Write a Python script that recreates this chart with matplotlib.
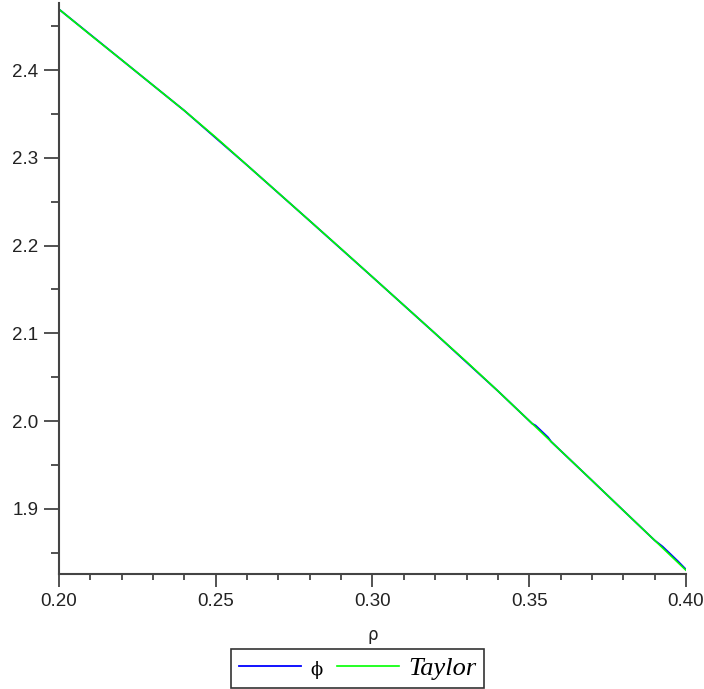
import matplotlib
matplotlib.use("Agg")
import matplotlib.pyplot as plt
from matplotlib.ticker import MultipleLocator

# Taylor approximation sampled along rho
rho = [0.20, 0.21, 0.22, 0.23, 0.24, 0.25, 0.26, 0.27, 0.28, 0.29, 0.30,
       0.31, 0.32, 0.33, 0.34, 0.35, 0.36, 0.37, 0.38, 0.39, 0.40]
taylor = [2.4695, 2.4403, 2.4117, 2.3828, 2.3539, 2.3235, 2.2917, 2.2600,
          2.2282, 2.1964, 2.1642, 2.1320, 2.0998, 2.0676, 2.0343, 2.0003,
          1.9663, 1.9323, 1.8981, 1.8640, 1.8299]

# exact phi, almost indistinguishable from the expansion
phi_rho = [0.20, 0.22, 0.24, 0.26, 0.28, 0.30, 0.32, 0.34, 0.35, 0.3510,
           0.3520, 0.3540, 0.3560, 0.3570, 0.36, 0.37, 0.38, 0.39, 0.3925,
           0.3950, 0.3975, 0.40]
phi_val = [2.4695, 2.4117, 2.3539, 2.2917, 2.2282, 2.1642, 2.0998, 2.0343,
           2.0003, 1.9969, 1.9950, 1.9882, 1.9814, 1.9765, 1.9663, 1.9323,
           1.8981, 1.8640, 1.8570, 1.8485, 1.8399, 1.8308]

x_ticks = [0.20, 0.25, 0.30, 0.35, 0.40]
y_ticks = [1.9, 2.0, 2.1, 2.2, 2.3, 2.4]

fig = plt.figure(figsize=(7.04, 6.89), dpi=100)
ax = fig.add_axes([0.0838, 0.1670, 0.8906, 0.8286])

ax.plot(phi_rho, phi_val, color="#0000ff", lw=1.3, label="ϕ")
ax.plot(rho, taylor, color="#00ff00", lw=1.2, label="Taylor")

ax.set_xlim(0.20, 0.40)
ax.set_ylim(1.8257, 2.4766)

ax.set_xticks(x_ticks)
ax.set_xticklabels([f"{v:.2f}" for v in x_ticks])
ax.set_yticks(y_ticks)
ax.set_yticklabels([f"{v:.1f}" for v in y_ticks])
ax.xaxis.set_minor_locator(MultipleLocator(0.01))
ax.yaxis.set_minor_locator(MultipleLocator(0.05))

axis_col = "#444444"
for side in ("top", "right"):
    ax.spines[side].set_visible(False)
for side in ("left", "bottom"):
    ax.spines[side].set_color(axis_col)
    ax.spines[side].set_linewidth(1.5)

ax.tick_params(axis="both", which="major", direction="out", color=axis_col,
               width=1.3, labelsize=13.5, labelcolor="#222222")
ax.tick_params(axis="y", which="major", length=11, pad=4)
ax.tick_params(axis="y", which="minor", length=6, width=1.3, color=axis_col)
ax.tick_params(axis="x", which="major", length=9, pad=5)
ax.tick_params(axis="x", which="minor", length=4, width=1.3, color=axis_col)
for lbl in ax.get_xticklabels() + ax.get_yticklabels():
    lbl.set_family("Liberation Sans")

ax.set_xlabel("ρ", fontsize=12, labelpad=11, color="#222222")

leg = fig.legend(loc="lower center", bbox_to_anchor=(0.5078, 0.002), ncol=2,
                 frameon=True, fancybox=False, edgecolor="black",
                 handlelength=2.35, columnspacing=0.55, handletextpad=0.35,
                 borderpad=0.28, borderaxespad=0.0, fontsize=19)
leg.get_frame().set_linewidth(1.2)
texts = leg.get_texts()
texts[0].set_family("DejaVu Serif")
texts[0].set_fontsize(13)
texts[1].set_family("Liberation Serif")
texts[1].set_style("italic")

fig.savefig("out.png", dpi=100)
